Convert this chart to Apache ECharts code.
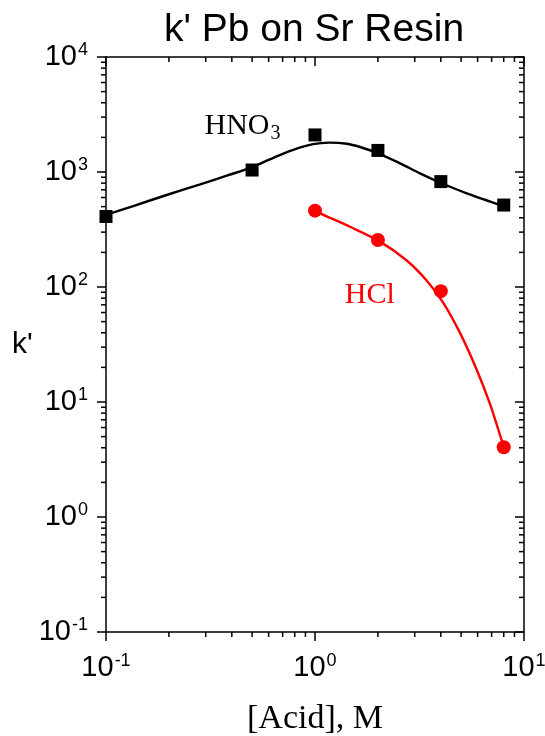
<!DOCTYPE html>
<html><head><meta charset="utf-8">
<script src="https://cdn.jsdelivr.net/npm/echarts@6/dist/echarts.min.js"></script>
<style>html,body{margin:0;padding:0;background:#fff}#c{width:545px;height:736px}</style>
</head><body><div id="c"></div>
<script>
// measured points
var hno3X = [0.1, 0.5, 1, 2, 4, 8];
var hno3Y = [410, 1040, 2100, 1540, 825, 516];
var hclX = [1, 2, 4, 8];
var hclY = [461, 256, 92, 4.04];
// fitted curves
var hno3FitX = [0.1, 0.135, 0.195, 0.282, 0.378, 0.498, 0.632, 0.787, 0.98, 1.17, 1.42, 1.642, 2.009, 2.551, 3.18, 4.04, 5.32, 8];
var hno3FitY = [423, 506, 631, 781, 929, 1099, 1329, 1560, 1745, 1800, 1760, 1650, 1454, 1190, 974, 798, 653, 506];
var hclFitX = [1, 1.057, 1.471, 2.047, 2.747, 3.42, 4.11, 4.94, 5.94, 6.88, 8];
var hclFitY = [461, 437, 334, 248, 170, 114, 72.9, 39.9, 19.1, 9.57, 4.04];
// axis ranges
var xMin = 0.1, xMax = 10, yMin = 0.1, yMax = 10000;
var xDecades = [0.1, 1];
var yDecades = [0.1, 1, 10, 100, 1000];
var minorDigits = [2, 3, 4, 5, 6, 7, 8, 9];

function pairs(xs, ys){ return xs.map(function(x,i){return [x, ys[i]];}); }
var minorX = [], minorY = [];
xDecades.forEach(function(d){ minorDigits.forEach(function(m){ minorX.push(+(d*m).toPrecision(3)); }); });
yDecades.forEach(function(d){ minorDigits.forEach(function(m){ minorY.push(+(d*m).toPrecision(3)); }); });

function supLabel(v){
  var e = Math.round(Math.log10(v));
  return '{b|10}{s|' + e + '}';
}
var rich = {
  b: {fontFamily: 'Liberation Sans, Arial', fontSize: 29, color: '#000'},
  s: {fontFamily: 'Liberation Sans, Arial', fontSize: 18, color: '#000', verticalAlign: 'top', padding: [0, 0, 14, 1]}
};

var chart = echarts.init(document.getElementById('c'), null, {renderer: 'canvas'});
var grid = {left: 106, right: 21, top: 57, bottom: 104, outerBoundsMode: 'none', containLabel: false};
var lineStyle = {color: '#000', width: 1.5};

chart.setOption({
  animation: false,
  backgroundColor: '#fff',
  title: {text: "k' Pb on Sr Resin", left: 159, top: 6,
    textStyle: {fontFamily: 'Liberation Sans, Arial', fontSize: 39, fontWeight: 'normal', color: '#000'}},
  grid: grid,
  xAxis: [
    {type: 'log', logBase: 10, min: xMin, max: xMax, position: 'bottom',
     axisLine: {lineStyle: lineStyle}, axisTick: {inside: false, length: 9, lineStyle: lineStyle},
     splitLine: {show: false}, minorTick: {show: false},
     axisLabel: {formatter: supLabel, rich: rich, margin: 20},
     name: '[Acid], M', nameLocation: 'middle', nameGap: 70,
     nameTextStyle: {fontFamily: 'Liberation Serif, Times New Roman', fontSize: 34, color: '#000'}},
    {type: 'log', logBase: 10, min: xMin, max: xMax, position: 'top',
     axisLine: {lineStyle: lineStyle}, axisTick: {inside: true, length: 9, lineStyle: lineStyle},
     splitLine: {show: false}, axisLabel: {show: false}}
  ],
  yAxis: [
    {type: 'log', logBase: 10, min: yMin, max: yMax, position: 'left',
     axisLine: {lineStyle: lineStyle}, axisTick: {inside: false, length: 9, lineStyle: lineStyle},
     splitLine: {show: false},
     axisLabel: {formatter: supLabel, rich: rich, margin: 18},
     name: "k'", nameLocation: 'middle', nameRotate: 0, nameGap: 71,
     nameTextStyle: {fontFamily: 'Liberation Sans, Arial', fontSize: 30, color: '#000'}},
    {type: 'log', logBase: 10, min: yMin, max: yMax, position: 'right',
     axisLine: {lineStyle: lineStyle}, axisTick: {inside: true, length: 9, lineStyle: lineStyle},
     splitLine: {show: false}, axisLabel: {show: false}}
  ],
  series: [
    {type: 'custom', coordinateSystem: 'cartesian2d', silent: true, z: 5,
     data: minorX.map(function(v){ return [v, 1]; }).concat(minorY.map(function(v){ return [v, 0]; })),
     renderItem: function(params, api){
       var cs = params.coordSys;
       var v = api.value(0), isX = api.value(1) === 1;
       var L = 5, st = {stroke: '#000', lineWidth: 1.5};
       if (isX) {
         var px = api.coord([v, 1])[0];
         var yb = cs.y + cs.height, yt = cs.y;
         return {type: 'group', children: [
           {type: 'line', shape: {x1: px, y1: yb, x2: px, y2: yb + L}, style: st},
           {type: 'line', shape: {x1: px, y1: yt, x2: px, y2: yt + L}, style: st}
         ]};
       } else {
         var py = api.coord([1, v])[1];
         var xl = cs.x, xr = cs.x + cs.width;
         return {type: 'group', children: [
           {type: 'line', shape: {x1: xl - L, y1: py, x2: xl, y2: py}, style: st},
           {type: 'line', shape: {x1: xr - L, y1: py, x2: xr, y2: py}, style: st}
         ]};
       }
     },
     encode: {x: 0, y: -1}
    },
    {name: 'HNO3 fit', type: 'line', smooth: 0.3, showSymbol: false, data: pairs(hno3FitX, hno3FitY),
     lineStyle: {color: '#000', width: 2.4}, z: 3},
    {name: 'HCl fit', type: 'line', smooth: 0.3, showSymbol: false, data: pairs(hclFitX, hclFitY),
     lineStyle: {color: '#ff0000', width: 2.4}, z: 3},
    {name: 'HNO3', type: 'scatter', symbol: 'rect', symbolSize: 13, data: pairs(hno3X, hno3Y),
     itemStyle: {color: '#000', opacity: 1}, z: 4},
    {name: 'HCl', type: 'scatter', symbol: 'circle', symbolSize: 14, data: pairs(hclX, hclY),
     itemStyle: {color: '#ff0000', opacity: 1}, z: 4},
    {type: 'scatter', symbolSize: 0, silent: true, z: 6,
     data: [{value: [0.45, 2500], name: 'HNO3'}, {value: [1.83, 85], name: 'HCl'}],
     label: {show: true, position: 'inside', opacity: 1,
       formatter: function(p){ return p.name === 'HNO3' ? '{t|HNO}{sub|3}' : '{r|HCl}'; },
       rich: {
         t: {fontFamily: 'Liberation Serif, Times New Roman', fontSize: 30, color: '#000'},
         sub: {fontFamily: 'Liberation Serif, Times New Roman', fontSize: 20, color: '#000', verticalAlign: 'bottom', padding: [16, 0, 0, 1]},
         r: {fontFamily: 'Liberation Serif, Times New Roman', fontSize: 30, color: '#ff0000'}
       }}
    }
  ]
});
</script></body></html>
